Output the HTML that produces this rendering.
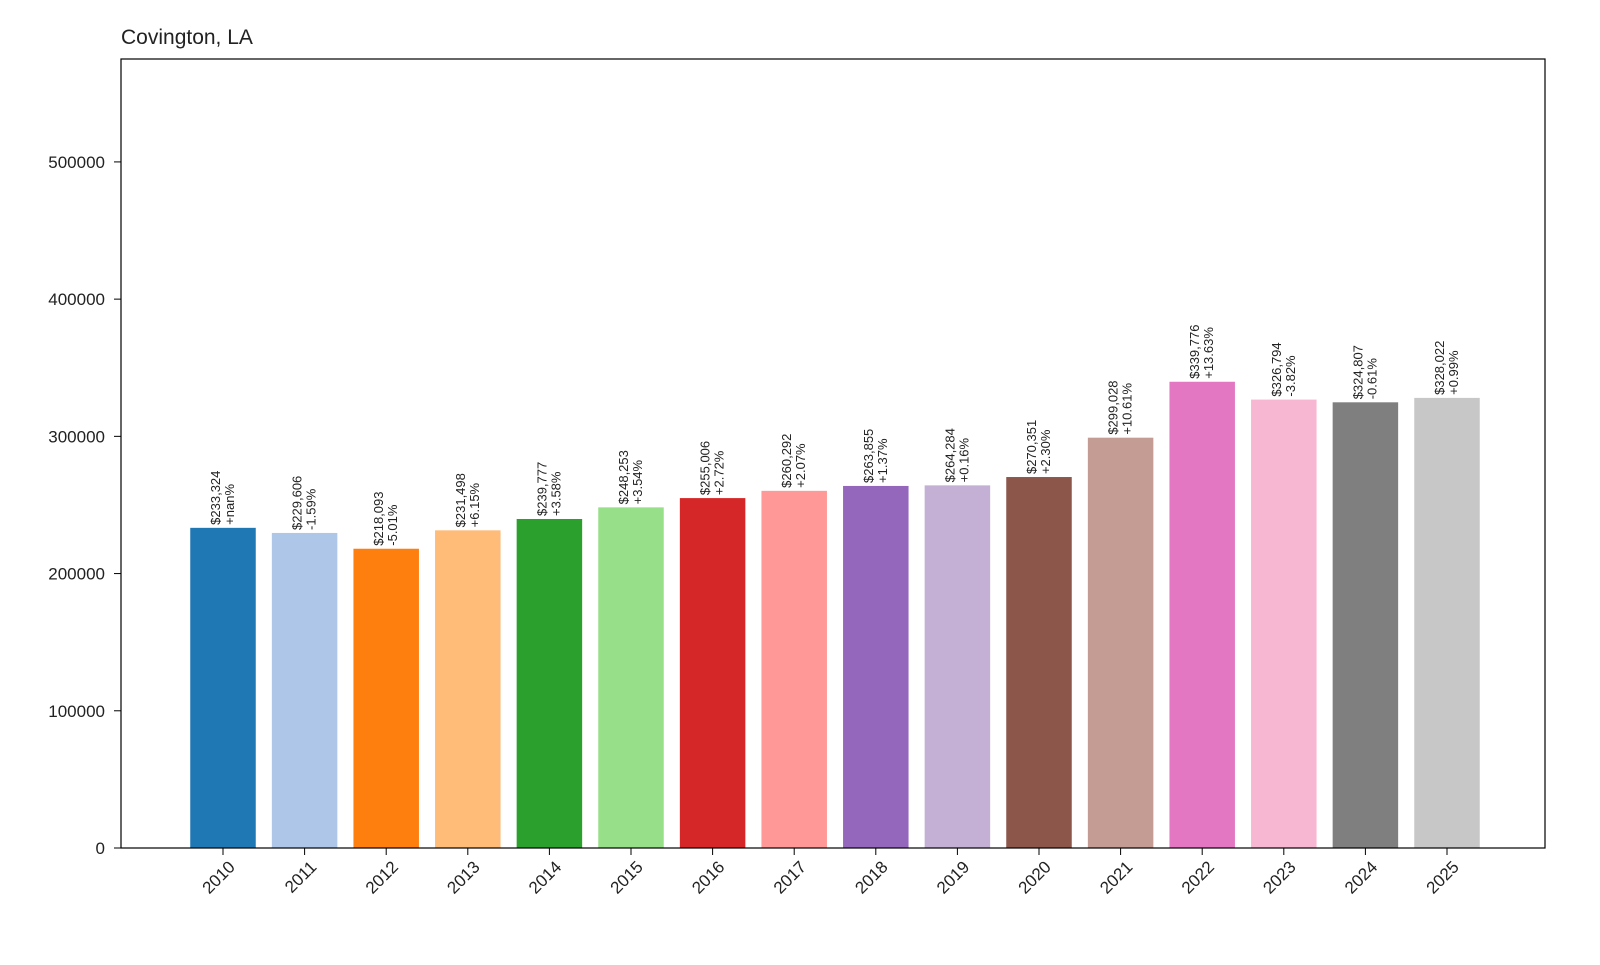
<!DOCTYPE html>
<html><head><meta charset="utf-8"><style>
body{margin:0;background:#fff;font-family:"Liberation Sans","DejaVu Sans",sans-serif;}
</style></head><body>
<svg width="1600" height="960" xmlns="http://www.w3.org/2000/svg">
<rect width="1600" height="960" fill="#fff"/>
<text x="121" y="44" font-size="21" fill="#222">Covington, LA</text>
<g id="plot"></g>
<rect x="121" y="59" width="1424" height="789" fill="none" stroke="#000" stroke-width="1.2"/>
</svg>
<script>
const years=["2010","2011","2012","2013","2014","2015","2016","2017","2018","2019","2020","2021","2022","2023","2024","2025"];
const values=[233324,229606,218093,231498,239777,248253,255006,260292,263855,264284,270351,299028,339776,326794,324807,328022];
const changes=["+nan%","-1.59%","-5.01%","+6.15%","+3.58%","+3.54%","+2.72%","+2.07%","+1.37%","+0.16%","+2.30%","+10.61%","+13.63%","-3.82%","-0.61%","+0.99%"];
const yTicks=[0,100000,200000,300000,400000,500000];
const colors=["#1f77b4","#aec7e8","#ff7f0e","#ffbb78","#2ca02c","#98df8a","#d62728","#ff9896","#9467bd","#c5b0d5","#8c564b","#c49c94","#e377c2","#f7b6d2","#7f7f7f","#c7c7c7"];
const NS="http://www.w3.org/2000/svg";
const g=document.getElementById('plot');
const y0=848,yTop=59,yMax=575000;
function y(v){return y0-(v/yMax)*(y0-yTop);}
function x(i){return 223+i*81.6;}
const bw=65.5;
function mk(t,a,txt){const e=document.createElementNS(NS,t);for(const k in a)e.setAttribute(k,a[k]);if(txt!==undefined)e.textContent=txt;g.appendChild(e);return e;}
yTicks.forEach(t=>{
  const l=mk('line',{x1:114,x2:121,y1:y(t),y2:y(t),stroke:'#000'});
  
  
  const tx=mk('text',{x:105,y:y(t)+6,'font-size':17,'text-anchor':'end',fill:'#222'},String(t));
  
  
});
values.forEach((v,i)=>{
  const cx=x(i);
  const r=mk('rect',{x:cx-bw/2,y:y(v),width:bw,height:y0-y(v),fill:colors[i]});
  
  
  const lb=mk('text',{transform:`translate(${cx},${y(v)-3}) rotate(-90)`,'font-size':13,fill:'#222'});
  
  
  const t1=document.createElementNS(NS,'tspan');t1.setAttribute('x',0);t1.setAttribute('y',-3);t1.textContent='$'+v.toLocaleString('en-US');lb.appendChild(t1);
  const t2=document.createElementNS(NS,'tspan');t2.setAttribute('x',0);t2.setAttribute('y',11);t2.textContent=changes[i];lb.appendChild(t2);
  const tk=mk('line',{x1:cx,x2:cx,y1:848,y2:855,stroke:'#000'});
  
  
  const xl=mk('text',{transform:`translate(${cx+13},${868}) rotate(-45)`,'font-size':17,'text-anchor':'end',fill:'#222'},years[i]);
  
  
});
</script>
</body></html>
